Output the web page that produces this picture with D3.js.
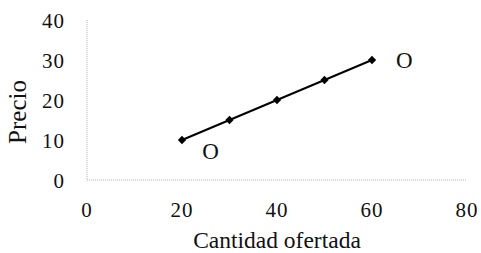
<!DOCTYPE html>
<html>
<head>
<meta charset="utf-8">
<script src="https://d3js.org/d3.v7.min.js"></script>
<style>
  body { margin: 0; background: #fff; }
  text { font-family: "Liberation Serif", "Times New Roman", serif; fill: #111; }
</style>
</head>
<body>
<div id="chart"></div>
<script>
// data
var cantidad = [20, 30, 40, 50, 60];
var precio = [10, 15, 20, 25, 30];
var xTicks = [0, 20, 40, 60, 80];
var yTicks = [0, 10, 20, 30, 40];
var curveLabels = [{x: 26, y: 7.2, t: "O"}, {x: 66.8, y: 30, t: "O"}];

var width = 481, height = 253;
var margin = {left: 87, right: 14, top: 20, bottom: 73};

var svg = d3.select("#chart").append("svg")
    .attr("width", width).attr("height", height);

var x = d3.scaleLinear().domain([0, 80]).range([margin.left, width - margin.right]);
var y = d3.scaleLinear().domain([0, 40]).range([height - margin.bottom, margin.top]);

// axis lines (light dotted grey)
svg.append("line")
    .attr("x1", x(0)).attr("x2", x(0))
    .attr("y1", y(40)).attr("y2", y(0))
    .attr("stroke", "#b0b0b0").attr("stroke-width", 1).attr("stroke-dasharray", "1,1");
svg.append("line")
    .attr("x1", x(0)).attr("x2", x(80))
    .attr("y1", y(0)).attr("y2", y(0))
    .attr("stroke", "#b0b0b0").attr("stroke-width", 1).attr("stroke-dasharray", "1,1");

// tick labels
svg.selectAll(".xt").data(xTicks).enter().append("text")
    .attr("class", "xt")
    .attr("x", d => x(d)).attr("y", y(0) + 37)
    .attr("text-anchor", "middle")
    .style("font-size", "21px")
    .style("letter-spacing", "1px")
    .text(d => d);

svg.selectAll(".yt").data(yTicks).enter().append("text")
    .attr("class", "yt")
    .attr("x", x(0) - 22).attr("y", d => y(d) + 7.5)
    .attr("text-anchor", "end")
    .style("font-size", "21px")
    .style("letter-spacing", "1px")
    .text(d => d);

// axis titles
svg.append("text")
    .attr("x", (x(0) + x(80)) / 2).attr("y", y(0) + 68)
    .attr("text-anchor", "middle")
    .style("font-size", "23.5px")
    .text("Cantidad ofertada");

svg.append("text")
    .attr("transform", "translate(26," + (y(20) + 12) + ") rotate(-90)")
    .attr("text-anchor", "middle")
    .style("font-size", "25px")
    .text("Precio");

// supply line
var pts = cantidad.map((c, i) => [c, precio[i]]);
svg.append("path")
    .datum(pts)
    .attr("fill", "none").attr("stroke", "#000").attr("stroke-width", 2)
    .attr("d", d3.line().x(d => x(d[0])).y(d => y(d[1])));

svg.selectAll(".pt").data(pts).enter().append("path")
    .attr("class", "pt")
    .attr("transform", d => "translate(" + x(d[0]) + "," + y(d[1]) + ")")
    .attr("d", d3.symbol().type(d3.symbolDiamond2).size(44))
    .attr("fill", "#000");

svg.selectAll(".lab").data(curveLabels).enter().append("text")
    .attr("class", "lab")
    .attr("x", d => x(d.x)).attr("y", d => y(d.y) + 8)
    .attr("text-anchor", "middle")
    .style("font-size", "23px")
    .text(d => d.t);
</script>
</body>
</html>
